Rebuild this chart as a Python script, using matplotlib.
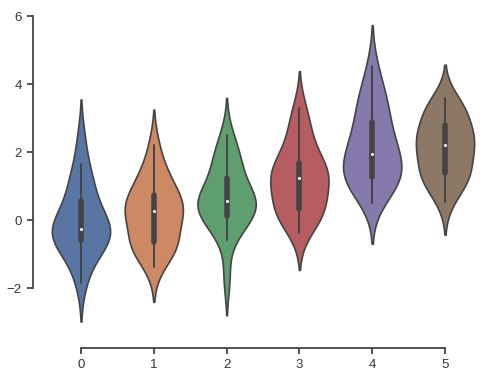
import pandas as pd
import matplotlib
matplotlib.use("Agg")
import matplotlib.pyplot as plt
import seaborn as sns

# Sample values for the six groups (quartiles, whiskers, extents)
group0 = [-1.85, -1.3, -1.0, -0.75, -0.65, -0.57, -0.45, -0.38, -0.32, -0.28,
          -0.24, -0.1, 0.1, 0.3, 0.5, 0.8, 1.0, 1.3, 1.64, 2.42]
group1 = [-1.37, -0.95, -0.85, -0.75, -0.7, -0.64, -0.38, -0.08, 0.1, 0.22,
          0.32, 0.38, 0.45, 0.52, 0.66, 0.98, 1.1, 1.3, 1.6, 2.22]
group2 = [-1.72, -0.57, -0.25, 0.0, 0.1, 0.15, 0.3, 0.4, 0.47, 0.53,
          0.59, 0.66, 0.78, 0.95, 1.15, 1.55, 1.65, 1.85, 2.1, 2.52]
group3 = [-0.37, 0.0, 0.15, 0.25, 0.3, 0.34, 0.6, 0.85, 1.05, 1.18,
          1.3, 1.38, 1.45, 1.52, 1.6, 1.95, 2.2, 2.5, 2.9, 3.29]
group4 = [0.52, 0.9, 1.05, 1.15, 1.22, 1.29, 1.45, 1.6, 1.75, 1.88,
          2.04, 2.2, 2.4, 2.6, 2.8, 3.2, 3.35, 3.6, 3.9, 4.53]
group5 = [0.54, 0.95, 1.1, 1.25, 1.35, 1.42, 1.6, 1.85, 2.0, 2.14,
          2.26, 2.35, 2.45, 2.55, 2.72, 3.0, 3.1, 3.25, 3.4, 3.61]

data = pd.DataFrame({0: group0, 1: group1, 2: group2,
                     3: group3, 4: group4, 5: group5})

sns.set_style("ticks")
plt.rcParams['font.family'] = ['Liberation Sans', 'DejaVu Sans']

fig = plt.figure(figsize=(4.83, 3.74), dpi=100)
ax = fig.add_axes([0.0923, 0.1005, 0.9044, 0.872])

sns.violinplot(data=data, ax=ax, palette="deep", saturation=0.75,
               linewidth=1.2, linecolor="#444444",
               inner_kws=dict(box_width=4, whis_width=1.4, marker="o"))
sns.despine(offset=8.4, trim=True)

# shrink the median markers to small white dots
for line in ax.lines:
    if line.get_marker() == "o":
        line.set_markersize(2.2)
        line.set_markeredgewidth(0)
        line.set_markerfacecolor("white")

ax.tick_params(labelsize=9.5, length=4.5, width=1.2, colors="#333333")
for s in ax.spines.values():
    s.set_linewidth(1.3)
    s.set_color("#444444")

fig.savefig("out.png", dpi=100)
